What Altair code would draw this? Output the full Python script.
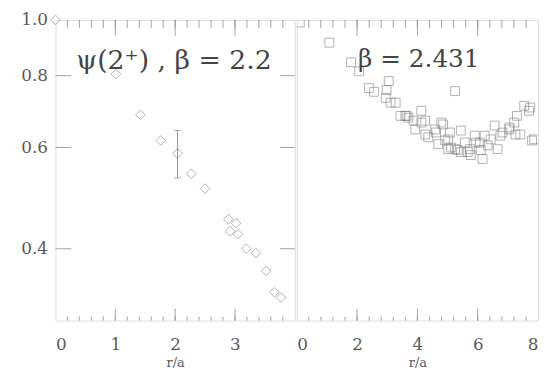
import altair as alt
import pandas as pd

# ---- data ----
left_x = [0.0, 1.01, 1.42, 1.76, 2.04, 2.27, 2.50, 2.89, 2.92, 3.02, 3.05, 3.19, 3.35, 3.52, 3.66, 3.77]
left_y = [1.0, 0.805, 0.684, 0.617, 0.586, 0.540, 0.509, 0.450, 0.429, 0.443, 0.424, 0.400, 0.393, 0.366, 0.336, 0.329]
err_x = [2.04]
err_lo = [0.531]
err_hi = [0.642]

right_x = [0.1, 1.08, 1.80, 2.07, 2.39, 2.56, 2.95, 2.98, 3.05, 3.11, 3.28, 3.44, 3.60, 3.64, 3.70, 3.87,
           3.93, 4.13, 4.13, 4.26, 4.26, 4.36, 4.59, 4.62, 4.69, 4.79, 4.85, 4.92, 5.02, 5.02, 5.08,
           5.11, 5.25, 5.25, 5.34, 5.44, 5.44, 5.57, 5.67, 5.74, 5.77, 5.90, 5.93, 6.07, 6.10, 6.16,
           6.23, 6.33, 6.43, 6.56, 6.66, 6.75, 6.82, 7.05, 7.05, 7.21, 7.25, 7.30, 7.41, 7.54, 7.70,
           7.74, 7.80, 7.87]
right_y = [0.99, 0.913, 0.844, 0.814, 0.761, 0.750, 0.732, 0.755, 0.783, 0.718, 0.718, 0.681, 0.681, 0.681, 0.676, 0.668,
           0.645, 0.695, 0.663, 0.668, 0.632, 0.625, 0.645, 0.637, 0.608, 0.663, 0.658, 0.617, 0.620, 0.596, 0.637,
           0.600, 0.752, 0.596, 0.594, 0.642, 0.589, 0.612, 0.589, 0.596, 0.582, 0.629, 0.612, 0.612, 0.594, 0.573,
           0.629, 0.605, 0.620, 0.655, 0.596, 0.629, 0.637, 0.645, 0.650, 0.663, 0.632, 0.681, 0.632, 0.709, 0.695,
           0.704, 0.617, 0.620]

y_ticks = [0.4, 0.6, 0.8, 1.0]
left_xticks = [0, 1, 2, 3]
right_xticks = [0, 2, 4, 6, 8]
left_minor = [0.2 * i for i in range(1, 20)]
right_minor = [0.4 * i for i in range(1, 20)]

FONT = "DejaVu Serif"
GRAY = "#8a8a8a"
PT = "#777777"
TXT = "#5a5a5a"
H = 304
WL = 242
WR = 244

yscale = alt.Scale(type="log", domain=[0.3, 1.0], nice=False, zero=False)


def yaxis(show):
    if not show:
        return None
    return alt.Axis(values=y_ticks, format=".1f", ticks=False, domain=False, grid=False,
                    labelFont=FONT, labelFontSize=17, labelColor=TXT, labelPadding=8, title=None)


def xaxis(vals):
    return alt.Axis(values=vals, format="d", ticks=False, domain=False, grid=False,
                    labelFont=FONT, labelFontSize=17, labelColor=TXT, labelPadding=16,
                    title="r/a", titleFont=FONT, titleFontSize=13, titleFontWeight="normal",
                    titleColor=TXT, titlePadding=4)


def panel(xs, ys, shape, size, xmax, width, xvals, minor, show_y, label, lx, ly, fs,
          right_ticks, clip, extra=()):
    xscale = alt.Scale(domain=[0, xmax], nice=False, zero=False)
    df = pd.DataFrame({"x": xs, "y": ys})
    pts = alt.Chart(df).mark_point(shape=shape, filled=False, size=size, color=PT,
                                   strokeWidth=0.8, clip=clip).encode(
        x=alt.X("x:Q", scale=xscale, axis=xaxis(xvals)),
        y=alt.Y("y:Q", scale=yscale, axis=yaxis(show_y)),
    )
    major = pd.DataFrame({"x": [v for v in xvals if 0 < v < xmax]})
    mino = pd.DataFrame({"x": [v for v in minor if 0 < v < xmax]})
    layers = [pts]
    for d, s in ((major, 12), (mino, 4)):
        layers.append(alt.Chart(d).mark_rule(color=GRAY, strokeWidth=0.8).encode(
            x=alt.X("x:Q", scale=xscale), y=alt.value(H), y2=alt.value(H - s)))
        layers.append(alt.Chart(d).mark_rule(color=GRAY, strokeWidth=0.8).encode(
            x=alt.X("x:Q", scale=xscale), y=alt.value(0), y2=alt.value(s + 4)))
    yt = pd.DataFrame({"y": [0.4, 0.6, 0.8]})
    if show_y:
        layers.append(alt.Chart(yt).mark_rule(color=GRAY, strokeWidth=0.8).encode(
            y=alt.Y("y:Q", scale=yscale), x=alt.value(0), x2=alt.value(16)))
    if right_ticks:
        layers.append(alt.Chart(yt).mark_rule(color=GRAY, strokeWidth=0.8).encode(
            y=alt.Y("y:Q", scale=yscale), x=alt.value(width - 15), x2=alt.value(width)))
    layers.extend(extra)
    layers.append(alt.Chart(pd.DataFrame({"t": [label]})).mark_text(
        align="left", baseline="middle", font=FONT, fontSize=fs, color="#444444").encode(
        text="t:N", x=alt.value(lx), y=alt.value(ly)))
    return alt.layer(*layers).properties(width=width, height=H)


err_df = pd.DataFrame({"x": err_x, "lo": err_lo, "hi": err_hi})
xs_l = alt.Scale(domain=[0, 4], nice=False, zero=False)
err_rule = alt.Chart(err_df).mark_rule(color=PT, strokeWidth=0.8).encode(
    x=alt.X("x:Q", scale=xs_l),
    y=alt.Y("lo:Q", scale=yscale), y2="hi:Q")
cap_lo = alt.Chart(err_df).mark_tick(color=PT, orient="horizontal", size=7, thickness=0.8).encode(
    x=alt.X("x:Q", scale=xs_l), y=alt.Y("lo:Q", scale=yscale))
cap_hi = alt.Chart(err_df).mark_tick(color=PT, orient="horizontal", size=7, thickness=0.8).encode(
    x=alt.X("x:Q", scale=xs_l), y=alt.Y("hi:Q", scale=yscale))

left = panel(left_x, left_y, "diamond", 95, 4, WL, left_xticks, left_minor, True,
             "ψ(2⁺)  ,  β = 2.2", 21, 42, 27, True, False, extra=(err_rule, cap_lo, cap_hi))

right = panel(right_x, right_y, "square", 80, 8, WR, right_xticks, right_minor, False,
              "β = 2.431", 62, 40, 25, False, True)

chart = alt.hconcat(left, right, spacing=0).properties(
    padding={"left": 12, "top": 0, "right": 5, "bottom": 5}
).configure_view(stroke=GRAY, strokeWidth=1.2).configure(background="white")

chart.save("out.html", embed_options={"renderer": "svg", "actions": False})
